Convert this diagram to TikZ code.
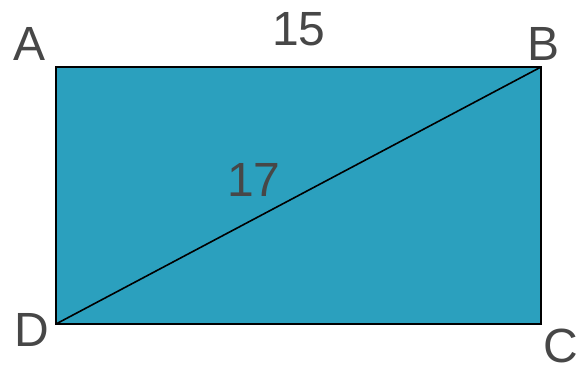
\documentclass[tikz,border=0pt]{standalone}
\usepackage{fontspec}
\setmainfont{Liberation Sans}
\definecolor{rectfill}{HTML}{2BA0BE}
\definecolor{labelgray}{HTML}{474747}
\tikzset{
  lbl/.style={anchor=base, inner sep=0pt, text=labelgray, font=\fontsize{48}{58}\selectfont},
  edge/.style={draw=black, line width=1.8pt}
}
\begin{document}
\begin{tikzpicture}[x=1pt,y=1pt]
\useasboundingbox (0,0) rectangle (584,371);
\coordinate (A) at (56,304);
\coordinate (B) at (541,304);
\coordinate (C) at (541,47);
\coordinate (D) at (56,47);
\filldraw[fill=rectfill, edge] (A) -- (B) -- (C) -- (D) -- cycle;
\draw[line width=1.6pt] (D) -- (B);
\node[lbl] (lA) at (30,310) {A};
\node[lbl] (lB) at (544,310) {B};
\node[lbl] (lC) at (561,8.5) {C};
\node[lbl] (lD) at (31.5,24.5) {D};
\node[lbl] (l15) at (299,325) {15};
\node[lbl] (l17) at (254,174) {17};
\end{tikzpicture}
\end{document}
